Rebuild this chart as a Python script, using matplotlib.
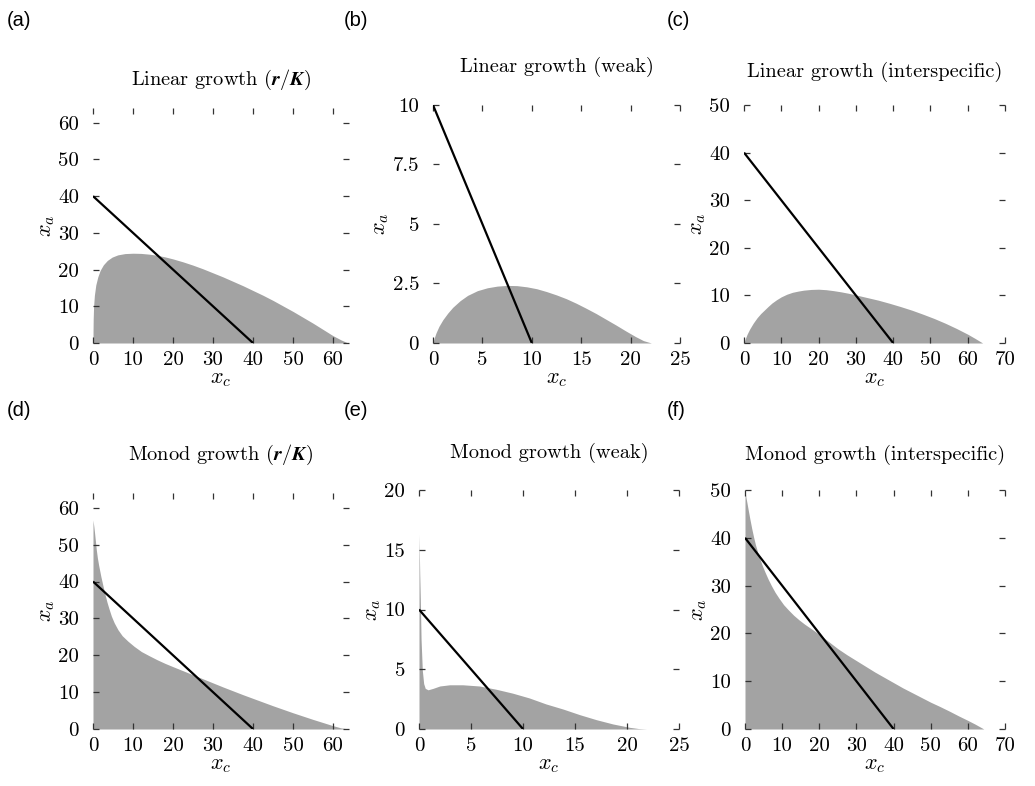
import matplotlib.pyplot as plt

plt.rcParams['font.family'] = 'serif'
plt.rcParams['font.serif'] = ['cmr10']
plt.rcParams['mathtext.fontset'] = 'cm'
plt.rcParams['axes.formatter.use_mathtext'] = True

# Upper edge of the shaded region in each panel (x_c, x_a)
lin_rk_x = [0, 0.01, 0.05, 0.15, 0.35, 0.7, 1.2, 1.8, 2.6, 3.6, 4.8, 6.2, 8, 10, 12, 14,
            16, 18, 20, 22.5, 25, 27.5, 30, 32.5, 35, 37.5, 40, 42.5, 45, 47.5, 50, 52.5,
            55, 57.5, 60, 62, 63.75]
lin_rk_y = [0, 3.0, 6.5, 10.0, 13.0, 15.8, 18.0, 19.8, 21.3, 22.5, 23.4, 24.0, 24.35, 24.45,
            24.4, 24.2, 23.9, 23.45, 22.9, 22.1, 21.2, 20.2, 19.1, 18.0, 16.8, 15.6, 14.3,
            13.0, 11.6, 10.1, 8.6, 7.0, 5.4, 3.7, 2.0, 0.85, 0]

lin_weak_x = [0, 0.1, 0.3, 0.6, 1.0, 1.5, 2.0, 2.75, 3.5, 4.5, 5.5, 6.5, 7.5, 8.5, 9.5,
              10.5, 11.5, 12.5, 13.5, 14.5, 15.5, 16.5, 17.5, 18.5, 19.5, 20.5, 21.3, 22.1]
lin_weak_y = [0, 0.18, 0.42, 0.7, 0.98, 1.26, 1.5, 1.78, 2.0, 2.2, 2.32, 2.39, 2.42, 2.41,
              2.36, 2.28, 2.16, 2.02, 1.86, 1.67, 1.46, 1.24, 1.0, 0.76, 0.51, 0.27, 0.1, 0]

lin_inter_x = [0, 0.3, 0.8, 1.5, 2.5, 3.5, 4.5, 5.5, 6.5, 7.5, 8.75, 10, 11.5, 13, 14.5,
               16, 18, 20, 22, 24, 26, 28, 30, 33, 36, 39, 42, 45, 48, 51, 54, 57, 60,
               62, 64]
lin_inter_y = [0, 0.8, 1.8, 2.9, 4.2, 5.3, 6.2, 6.95, 7.7, 8.4, 9.1, 9.7, 10.25, 10.65,
               10.9, 11.1, 11.25, 11.3, 11.2, 11.0, 10.75, 10.45, 10.1, 9.55, 9.0, 8.35,
               7.65, 6.9, 6.05, 5.15, 4.15, 3.05, 1.85, 0.95, 0]

mon_rk_x = [0, 0.2, 0.4, 0.6, 0.83, 1.1, 1.4, 1.67, 2.0, 2.5, 3.0, 3.5, 4.0, 4.6, 5.3,
            6.25, 7.3, 8.75, 10.3, 12.1, 14, 16, 18, 20, 22.5, 25, 27.5, 30, 32.5, 35,
            37.5, 40, 42.5, 45, 47.5, 50, 52.5, 55, 57.5, 60, 62, 64]
mon_rk_y = [56.7, 55.0, 53.1, 51.0, 48.6, 46.4, 44.5, 43.0, 41.2, 38.8, 36.5, 34.4, 32.6,
            30.6, 28.8, 26.9, 25.3, 23.8, 22.4, 21.0, 19.9, 18.8, 17.8, 16.9, 15.8, 14.7,
            13.6, 12.5, 11.4, 10.35, 9.3, 8.3, 7.3, 6.3, 5.35, 4.4, 3.5, 2.6, 1.75, 0.9,
            0.3, 0]

mon_weak_x = [0, 0.03, 0.07, 0.13, 0.2, 0.32, 0.45, 0.6, 0.87, 1.35, 2.0, 2.95, 4.2, 5.8,
              7.4, 9.0, 10.6, 12.2, 13.85, 15.45, 17.05, 18.65, 20.25, 21.1, 21.9]
mon_weak_y = [16.3, 15.0, 13.0, 10.8, 7.5, 4.9, 3.8, 3.4, 3.28, 3.4, 3.6, 3.7, 3.7, 3.6,
              3.33, 3.0, 2.6, 2.1, 1.67, 1.2, 0.78, 0.42, 0.14, 0.04, 0]

mon_inter_x = [0, 0.3, 0.6, 0.9, 1.3, 1.8, 2.3, 2.8, 3.4, 4.0, 4.7, 5.4, 6.2, 7.1, 8.1,
               9.2, 10.4, 11.7, 13.1, 14.6, 16.1, 18, 20, 22.5, 25, 27.5, 30, 32.5, 35,
               37.5, 40, 42.5, 45, 47.5, 50, 52.5, 55, 57.5, 60, 62, 64.3]
mon_inter_y = [49.7, 48.3, 47.0, 45.7, 44.0, 42.0, 40.2, 38.6, 37.0, 35.6, 34.1, 32.8,
               31.4, 30.0, 28.6, 27.3, 26.0, 24.9, 23.8, 22.8, 21.9, 20.9, 19.8, 18.3,
               16.8, 15.5, 14.3, 13.1, 11.9, 10.8, 9.7, 8.6, 7.6, 6.6, 5.6, 4.7, 3.75,
               2.75, 1.8, 1.0, 0]

# Nullcline intercepts (x_c axis, x_a axis)
lines = [(40, 40), (10, 10), (40, 40), (40, 40), (10, 10), (40, 40)]

titles = [r'Linear growth ($\boldsymbol{r/K}$)', 'Linear growth (weak)',
          'Linear growth (interspecific)',
          r'Monod growth ($\boldsymbol{r/K}$)', 'Monod growth (weak)',
          'Monod growth (interspecific)']
letters = ['(a)', '(b)', '(c)', '(d)', '(e)', '(f)']

xlims = [64, 25, 70, 64, 25, 70]
ylims = [64, 10, 50, 64, 20, 50]
xticks = [[0, 10, 20, 30, 40, 50, 60], [0, 5, 10, 15, 20, 25], [0, 10, 20, 30, 40, 50, 60, 70],
          [0, 10, 20, 30, 40, 50, 60], [0, 5, 10, 15, 20, 25], [0, 10, 20, 30, 40, 50, 60, 70]]
yticks = [[0, 10, 20, 30, 40, 50, 60], [0, 2.5, 5, 7.5, 10], [0, 10, 20, 30, 40, 50],
          [0, 10, 20, 30, 40, 50, 60], [0, 5, 10, 15, 20], [0, 10, 20, 30, 40, 50]]
yticklabels = [None, ['0', '2.5', '5', '7.5', '10'], None, None, None, None]

curves = [(lin_rk_x, lin_rk_y), (lin_weak_x, lin_weak_y), (lin_inter_x, lin_inter_y),
          (mon_rk_x, mon_rk_y), (mon_weak_x, mon_weak_y), (mon_inter_x, mon_inter_y)]

W, H = 1035, 786
# axes boxes in pixels: left, top, right, bottom
boxes = [(93, 108, 349, 343), (433, 105, 680, 343), (744, 105, 1005, 343),
         (93, 493, 349, 729), (419, 490, 679, 729), (745, 490, 1005, 729)]
title_y = [80, 67, 72, 455, 453, 455]
letter_pos = [(7, 20), (344, 20), (667, 20), (7, 410), (344, 410), (667, 410)]

fig = plt.figure(figsize=(W / 100, H / 100), dpi=100)

for i in range(6):
    l, t, r, b = boxes[i]
    ax = fig.add_axes([l / W, 1 - b / H, (r - l) / W, (b - t) / H])
    cx, cy = curves[i]
    ax.fill_between(cx, 0, cy, color='#a3a3a3', linewidth=0)
    xi, yi = lines[i]
    ax.plot([0, xi], [yi, 0], color='black', linewidth=1.6, solid_capstyle='butt')

    ax.set_xlim(0, xlims[i])
    ax.set_ylim(0, ylims[i])
    ax.set_xticks(xticks[i])
    ax.set_yticks(yticks[i])
    ax.set_xticklabels([str(v) for v in xticks[i]])
    if yticklabels[i] is not None:
        ax.set_yticklabels(yticklabels[i])
    else:
        ax.set_yticklabels([str(v) for v in yticks[i]])
    for s in ax.spines.values():
        s.set_visible(False)
    ax.tick_params(direction='in', length=4, width=0.9, color='#333333',
                   top=True, right=True, labelsize=15)
    ax.tick_params(axis='x', pad=6)
    ax.tick_params(axis='y', pad=10)
    ax.set_xlabel('$x_c$', fontsize=16, labelpad=0)
    ax.set_ylabel('$x_a$', fontsize=16, labelpad=1)

    fig.text((l + r) / 2 / W, 1 - title_y[i] / H, titles[i], ha='center', va='center',
             fontsize=14.7)
    lx, ly = letter_pos[i]
    fig.text(lx / W, 1 - ly / H, letters[i], ha='left', va='center', fontsize=14.5,
             family='Liberation Sans')

fig.savefig('out.png', dpi=100)
